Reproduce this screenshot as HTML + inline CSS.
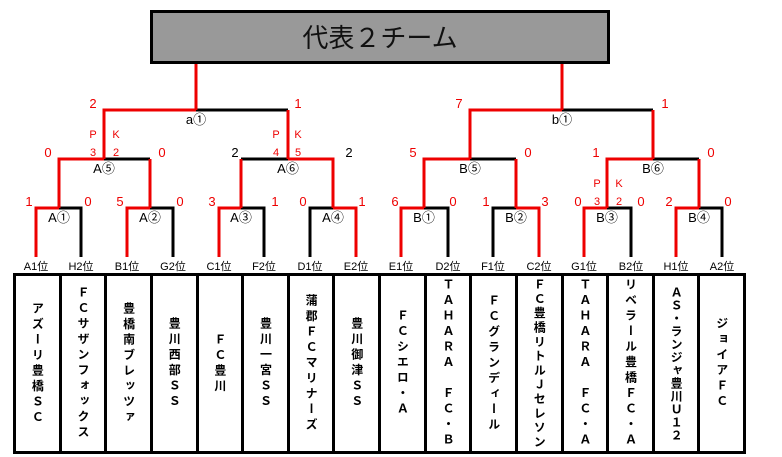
<!DOCTYPE html>
<html><head><meta charset="utf-8"><style>
body{margin:0;background:#fff;width:782px;height:457px;overflow:hidden;position:relative;font-family:"Liberation Sans","Noto Sans CJK JP",sans-serif}
.title{position:absolute;left:150px;top:10px;width:454px;height:48px;background:#999;border:3px solid #000;text-align:center;line-height:48px;font-size:26px;font-family:"Noto Sans CJK JP",sans-serif;color:#111}
.box{position:absolute;left:13px;top:273px;width:727px;height:175px;border:3px solid #000;display:flex}
.c{flex:1;border-right:3px solid #000;display:flex;align-items:center;justify-content:center}
.c:last-child{border-right:none}
.c span{writing-mode:vertical-rl;text-orientation:upright;font-family:"Noto Sans CJK JP",sans-serif;font-weight:bold;font-size:12px;letter-spacing:3.5px;line-height:1}
svg{position:absolute;left:0;top:0}
</style></head><body>
<svg width="782" height="457" font-family="Liberation Sans, Noto Sans CJK JP, sans-serif">
<g stroke="#000" stroke-width="3" fill="none">
<path d="M81 257V208H59M173 257V208H150M264 257V208H241M310 257V208H333M448 257V208H424M493 257V208H516M631 257V208H607M722 257V208H699"/>
<path d="M104 159H150M241 159H288M470 159H516M653 159H699M196 110H288M562 110H653"/>
</g>
<g stroke="#e00" stroke-width="3" fill="none">
<path d="M36 257V208H59M127 257V208H150M219 257V208H241M356 257V208H333M401 257V208H424M539 257V208H516M584 257V208H607M676 257V208H699"/>
<path d="M59 208V159H104M150 208V159M241 208V159M333 208V159H288M424 208V159H470M516 208V159M607 208V159H653M699 208V159"/>
<path d="M104 159V110H196M288 159V110M470 159V110H562M653 159V110M196 110V62M562 110V62"/>
</g>
<g font-size="13" fill="#e00" text-anchor="middle">
<text x="29" y="206">1</text><text x="88" y="206">0</text><text x="120" y="206">5</text><text x="180" y="206">0</text>
<text x="212" y="206">3</text><text x="275" y="206">1</text><text x="303" y="206">0</text><text x="362" y="206">1</text>
<text x="395" y="206">6</text><text x="453" y="206">0</text><text x="486" y="206">1</text><text x="545" y="206">3</text>
<text x="578" y="206">0</text><text x="641" y="206">0</text><text x="669" y="206">2</text><text x="728" y="206">0</text>
<text x="48" y="157">0</text><text x="162" y="157">0</text><text x="413" y="157">5</text><text x="528" y="157">0</text><text x="596" y="157">1</text><text x="711" y="157">0</text>
<text x="93" y="108">2</text><text x="298" y="108">1</text><text x="459" y="108">7</text><text x="665" y="108">1</text>
</g>
<g font-size="13" fill="#000" text-anchor="middle"><text x="235" y="157">2</text><text x="349" y="157">2</text></g>
<g font-size="11" fill="#e00" text-anchor="middle">
<text x="93" y="138">P</text><text x="116" y="138">K</text><text x="93" y="156">3</text><text x="116" y="156">2</text>
<text x="276" y="138">P</text><text x="298" y="138">K</text><text x="276" y="156">4</text><text x="298" y="156">5</text>
<text x="597" y="187">P</text><text x="619" y="187">K</text><text x="597" y="205">3</text><text x="619" y="205">2</text>
</g>
<g font-size="13" fill="#000" text-anchor="middle">
<text x="59" y="222">A①</text><text x="150" y="222">A②</text><text x="241" y="222">A③</text><text x="333" y="222">A④</text>
<text x="424" y="222">B①</text><text x="516" y="222">B②</text><text x="607" y="222">B③</text><text x="699" y="222">B④</text>
<text x="104" y="173">A⑤</text><text x="288" y="173">A⑥</text><text x="470" y="173">B⑤</text><text x="653" y="173">B⑥</text>
<text x="196" y="124">a①</text><text x="562" y="124">b①</text>
</g>
<g font-size="11" fill="#000" text-anchor="middle">
<text x="36" y="270">A1位</text><text x="81" y="270">H2位</text><text x="127" y="270">B1位</text><text x="173" y="270">G2位</text>
<text x="219" y="270">C1位</text><text x="264" y="270">F2位</text><text x="310" y="270">D1位</text><text x="356" y="270">E2位</text>
<text x="401" y="270">E1位</text><text x="448" y="270">D2位</text><text x="493" y="270">F1位</text><text x="539" y="270">C2位</text>
<text x="584" y="270">G1位</text><text x="631" y="270">B2位</text><text x="676" y="270">H1位</text><text x="722" y="270">A2位</text>
</g>
</svg>
<div class="title">代表２チーム</div>
<div class="box">
<div class="c"><span>アズーリ豊橋ＳＣ</span></div>
<div class="c"><span>ＦＣサザンフォックス</span></div>
<div class="c"><span>豊橋南ブレッツァ</span></div>
<div class="c"><span>豊川西部ＳＳ</span></div>
<div class="c"><span>ＦＣ豊川</span></div>
<div class="c"><span>豊川一宮ＳＳ</span></div>
<div class="c"><span>蒲郡ＦＣマリナーズ</span></div>
<div class="c"><span>豊川御津ＳＳ</span></div>
<div class="c"><span>ＦＣシエロ・Ａ</span></div>
<div class="c"><span>ＴＡＨＡＲＡ　ＦＣ・Ｂ</span></div>
<div class="c"><span>ＦＣグランディール</span></div>
<div class="c"><span style="letter-spacing:2.3px">ＦＣ豊橋リトルＪセレソン</span></div>
<div class="c"><span>ＴＡＨＡＲＡ　ＦＣ・Ａ</span></div>
<div class="c"><span>リベラール豊橋ＦＣ・Ａ</span></div>
<div class="c"><span style="letter-spacing:1px">ＡＳ・ランジャ豊川Ｕ１２</span></div>
<div class="c"><span>ジョイアＦＣ</span></div>
</div>
</body></html>
